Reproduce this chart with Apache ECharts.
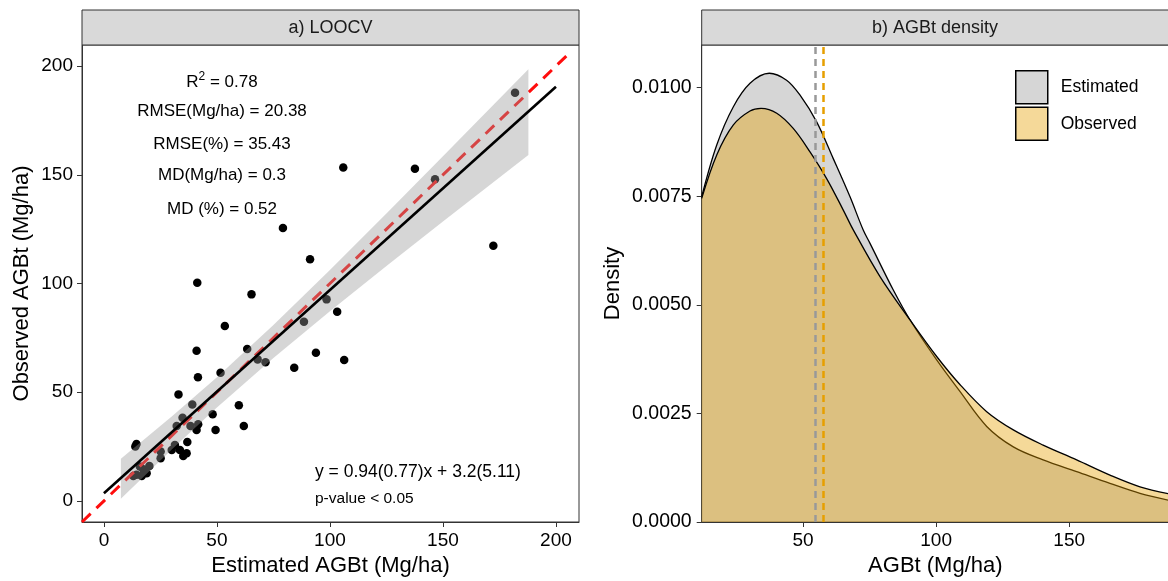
<!DOCTYPE html>
<html><head><meta charset="utf-8">
<script src="https://cdn.jsdelivr.net/npm/echarts@6/dist/echarts.min.js"></script>
<style>html,body{margin:0;padding:0;background:#fff}#c{width:1168px;height:581px}</style>
</head><body><div id="c"></div>
<script>
// ---------- Panel a) LOOCV : estimated vs observed AGBt (Mg/ha) ----------
const estimatedAGBt = [79.2,91.2,41.3,65.3,53.5,88.5,98.5,63.4,41.0,93.8,68.0,71.5,84.2,51.6,41.6,33.0,39.1,59.7,48.1,34.8,32.2,38.3,61.9,41.7,41.0,49.4,36.9,13.9,14.4,31.4,30.0,33.6,35.1,36.6,25.1,25.1,20.1,17.4,18.9,14.4,13.0,16.7,15.9,172.3,103.2,106.3,181.9,105.9,137.6,146.5];
const observedAGBt  = [125.5,111.1,100.4,95.0,80.5,82.4,92.7,69.9,69.1,68.2,65.1,63.8,61.3,59.0,56.9,49.0,44.4,44.0,39.9,38.3,34.5,34.5,34.5,35.3,32.6,32.6,27.1,25.0,26.2,25.7,23.4,23.4,20.7,21.9,22.7,19.6,16.1,14.6,12.7,12.0,11.5,11.5,15.8,117.4,87.0,64.8,187.7,153.4,152.8,147.9];
const fitX = [0, 200];
const fitY = [3.5, 190.5];
const ribbonX     = [7.5, 30, 50, 75, 100, 125, 150, 187.8];
const ribbonLower = [1.0, 23.7, 43.0, 65.7, 87.2, 108.0, 128.5, 159.1];
const ribbonUpper = [19.4, 38.8, 56.9, 80.9, 106.2, 132.2, 158.5, 198.5];
const oneToOne = [-9.7, 205];
const scatterTicks = [0, 50, 100, 150, 200];
const statLines = ['RMSE(Mg/ha) = 20.38', 'RMSE(%) = 35.43', 'MD(Mg/ha) = 0.3', 'MD (%) = 0.52'];
const r2Text = '0.78';
const eqText = 'y = 0.94(0.77)x + 3.2(5.11)';
const pText = 'p-value < 0.05';

// ---------- Panel b) AGBt density ----------
const densXEstimated = [11.9,17.55,23.8,30.05,37.3,43.8,48.8,55.1,61.3,67.6,72.6,75.1,83.9,90.2,100.2,109.0,119.0,129.0,140.2,152.8,165.3,176.6,187.5];
const densYEstimated = [0.00749,0.00868,0.00956,0.0101,0.01033,0.01017,0.00983,0.00921,0.00837,0.00749,0.00672,0.00642,0.00534,0.00465,0.00373,0.00300,0.00220,0.00173,0.00143,0.00116,0.00089,0.00066,0.00050];
const densXObserved = [11.9,17.55,23.8,30.05,34.2,40.1,46.3,52.6,58.9,65.1,68.9,78.9,90.2,100.2,109.0,119.0,129.0,140.2,152.8,165.3,176.6,187.5];
const densYObserved = [0.00745,0.00845,0.00914,0.00946,0.00952,0.00941,0.00906,0.00852,0.00790,0.00718,0.00672,0.00565,0.00465,0.00381,0.00316,0.00254,0.00212,0.00177,0.00143,0.00108,0.00081,0.00065];
const meanEstimated = 54.7;
const meanObserved = 57.4;
const densityXTicks = [50, 100, 150];
const densityYTicks = [0, 0.0025, 0.005, 0.0075, 0.01];

const FONT = '"Liberation Sans", Arial, sans-serif';
const zip = (a, b) => a.map((v, i) => [v, b[i]]);

const axisCommon = {
  axisLine: { show: true, onZero: false, lineStyle: { color: '#333', width: 1 } },
  axisTick: { show: true, length: 5, lineStyle: { color: '#333', width: 1 } },
  splitLine: { show: false },
  nameLocation: 'middle',
  nameTextStyle: { fontFamily: FONT, fontSize: 22, color: '#000' }
};
const lbl = (extra) => Object.assign({ fontFamily: FONT, fontSize: 19, color: '#000' }, extra);

const chart = echarts.init(document.getElementById('c'), null, { renderer: 'canvas' });

const option = {
  animation: false,
  backgroundColor: '#fff',
  grid: [
    { left: 82, top: 45, width: 497, height: 477, show: true, borderColor: '#333', borderWidth: 1, backgroundColor: 'transparent', outerBoundsMode: 'none', containLabel: false },
    { left: 701.7, top: 45, width: 467.3, height: 477, show: true, borderColor: '#333', borderWidth: 1, backgroundColor: 'transparent', outerBoundsMode: 'none', containLabel: false }
  ],
  xAxis: [
    Object.assign({}, axisCommon, {
      gridIndex: 0, type: 'value', min: -9.7, max: 210.2,
      name: 'Estimated AGBt (Mg/ha)', nameGap: 31,
      axisTick: { show: true, length: 5, lineStyle: { color: '#333' }, customValues: scatterTicks },
      axisLabel: lbl({ margin: 9, customValues: scatterTicks })
    }),
    Object.assign({}, axisCommon, {
      gridIndex: 1, type: 'value', min: 11.9, max: 187.5,
      name: 'AGBt (Mg/ha)', nameGap: 31,
      axisTick: { show: true, length: 5, lineStyle: { color: '#333' }, customValues: densityXTicks },
      axisLabel: lbl({ margin: 9, customValues: densityXTicks })
    })
  ],
  yAxis: [
    Object.assign({}, axisCommon, {
      gridIndex: 0, type: 'value', min: -9.7, max: 209.7,
      name: 'Observed AGBt (Mg/ha)', nameGap: 49,
      axisTick: { show: true, length: 5, lineStyle: { color: '#333' }, customValues: scatterTicks },
      axisLabel: lbl({ margin: 9, customValues: scatterTicks })
    }),
    Object.assign({}, axisCommon, {
      gridIndex: 1, type: 'value', min: 0, max: 0.01098,
      name: 'Density', nameGap: 78,
      axisTick: { show: true, length: 5, lineStyle: { color: '#333' }, customValues: densityYTicks },
      axisLabel: lbl({ margin: 10, fontSize: 19.5, customValues: densityYTicks, formatter: v => Number(v).toFixed(4) })
    })
  ],
  legend: {
    show: true, orient: 'vertical', left: 1010, top: 65,
    itemWidth: 32, itemHeight: 33, itemGap: 2, icon: 'rect', selectedMode: false,
    textStyle: { fontFamily: FONT, fontSize: 17.5, color: '#000', padding: [0, 0, 0, 8] },
    data: [
      { name: 'Estimated', itemStyle: { color: '#d6d6d6', borderColor: '#000', borderWidth: 1.5 } },
      { name: 'Observed', itemStyle: { color: '#f5d999', borderColor: '#000', borderWidth: 1.5 } }
    ]
  },
  series: [
    {
      name: 'points', type: 'scatter', xAxisIndex: 0, yAxisIndex: 0, z: 2,
      data: zip(estimatedAGBt, observedAGBt), symbolSize: 8.5,
      itemStyle: { color: '#000', opacity: 1 }, silent: true
    },
    {
      name: '1:1', type: 'line', xAxisIndex: 0, yAxisIndex: 0, z: 3,
      data: zip(oneToOne, oneToOne), symbol: 'none', clip: true,
      lineStyle: { color: '#ff0d0d', width: 3, type: [12, 8] }, silent: true
    },
    {
      name: 'ribbon', type: 'custom', xAxisIndex: 0, yAxisIndex: 0, z: 4, silent: true,
      data: ribbonX.map((x, i) => [x, ribbonLower[i], ribbonUpper[i]]),
      encode: { x: 0, y: [1, 2] },
      renderItem: function (params, api) {
        if (params.dataIndex !== 0) return { type: 'group', children: [] };
        const pts = [];
        for (let i = 0; i < ribbonX.length; i++) pts.push(api.coord([ribbonX[i], ribbonUpper[i]]));
        for (let i = ribbonX.length - 1; i >= 0; i--) pts.push(api.coord([ribbonX[i], ribbonLower[i]]));
        return { type: 'polygon', shape: { points: pts }, style: { fill: 'rgba(153,153,153,0.4)', stroke: null } };
      }
    },
    {
      name: 'fit', type: 'line', xAxisIndex: 0, yAxisIndex: 0, z: 5,
      data: zip(fitX, fitY), symbol: 'none',
      lineStyle: { color: '#000', width: 2.6 }, silent: true
    },
    {
      name: 'Estimated', type: 'line', xAxisIndex: 1, yAxisIndex: 1, z: 2,
      data: zip(densXEstimated, densYEstimated), symbol: 'none', smooth: 0.35,
      lineStyle: { color: '#000', width: 1.3 },
      itemStyle: { color: '#d6d6d6' },
      areaStyle: { color: 'rgba(153,153,153,0.4)', origin: 'start', opacity: 1 }, silent: true
    },
    {
      name: 'Observed', type: 'line', xAxisIndex: 1, yAxisIndex: 1, z: 3,
      data: zip(densXObserved, densYObserved), symbol: 'none', smooth: 0.35,
      lineStyle: { color: '#000', width: 1.3 },
      itemStyle: { color: '#f5d999' },
      areaStyle: { color: 'rgba(230,159,0,0.4)', origin: 'start', opacity: 1 }, silent: true,
      markLine: {
        silent: true, symbol: ['none', 'none'], label: { show: false },
        lineStyle: { type: [7, 5], width: 2.5 },
        data: [
          { xAxis: meanEstimated, lineStyle: { color: '#999999', type: [7, 5], width: 2.5 } },
          { xAxis: meanObserved, lineStyle: { color: '#E69F00', type: [7, 5], width: 2.5 } }
        ]
      }
    }
  ],
  graphic: [
    { type: 'rect', shape: { x: 82, y: 10, width: 497, height: 35 }, style: { fill: '#d9d9d9', stroke: '#333', lineWidth: 1 }, z: 10 },
    { type: 'text', x: 330.5, y: 28, style: { text: 'a) LOOCV', font: '18px ' + FONT, fill: '#1a1a1a', align: 'center', verticalAlign: 'middle' }, z: 11 },
    { type: 'rect', shape: { x: 701.7, y: 10, width: 480, height: 35 }, style: { fill: '#d9d9d9', stroke: '#333', lineWidth: 1 }, z: 10 },
    { type: 'text', x: 935, y: 28, style: { text: 'b) AGBt density', font: '18px ' + FONT, fill: '#1a1a1a', align: 'center', verticalAlign: 'middle' }, z: 11 },
    { type: 'text', x: 222, y: 82, z: 11, style: {
        text: 'R{s|2} = ' + r2Text, align: 'center', verticalAlign: 'middle',
        font: '17px ' + FONT, fill: '#000', lineHeight: 22,
        rich: { s: { fontSize: 12, fontFamily: FONT, lineHeight: 22, verticalAlign: 'top', padding: [0, 0, 10, 0] } }
    } },
    { type: 'text', x: 222, y: 111, z: 11, style: { text: statLines[0], font: '17px ' + FONT, fill: '#000', align: 'center', verticalAlign: 'middle' } },
    { type: 'text', x: 222, y: 144, z: 11, style: { text: statLines[1], font: '17px ' + FONT, fill: '#000', align: 'center', verticalAlign: 'middle' } },
    { type: 'text', x: 222, y: 175, z: 11, style: { text: statLines[2], font: '17px ' + FONT, fill: '#000', align: 'center', verticalAlign: 'middle' } },
    { type: 'text', x: 222, y: 209, z: 11, style: { text: statLines[3], font: '17px ' + FONT, fill: '#000', align: 'center', verticalAlign: 'middle' } },
    { type: 'text', x: 315, y: 472, z: 11, style: { text: eqText, font: '17.5px ' + FONT, fill: '#000', align: 'left', verticalAlign: 'middle' } },
    { type: 'text', x: 315, y: 499, z: 11, style: { text: pText, font: '15.5px ' + FONT, fill: '#000', align: 'left', verticalAlign: 'middle' } }
  ]
};
chart.setOption(option);
</script>
</body></html>
